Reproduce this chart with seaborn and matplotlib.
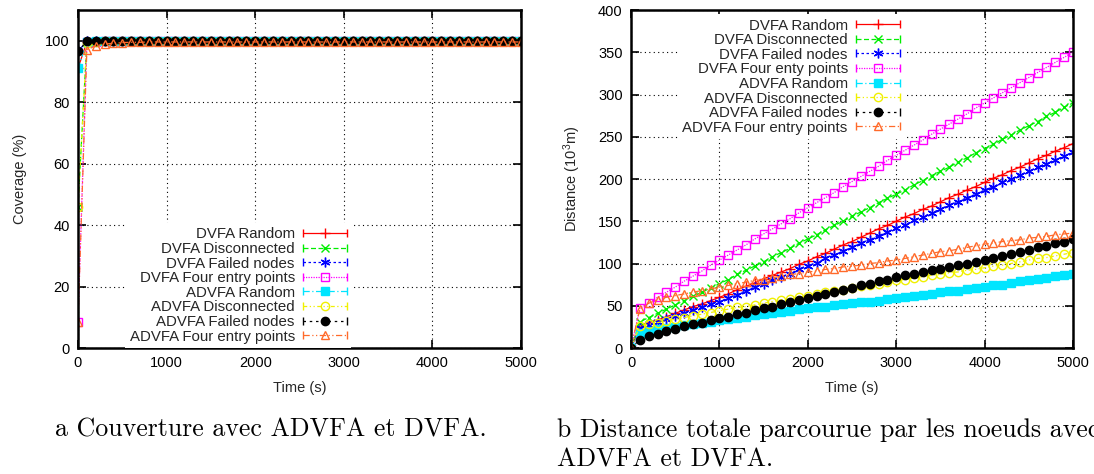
import matplotlib
matplotlib.use("Agg")
import matplotlib.pyplot as plt
from matplotlib.lines import Line2D
from matplotlib.legend_handler import HandlerLine2D
import seaborn as sns

# sampling times (s)
time_s = list(range(0, 5001, 100))

labels_cov = ["DVFA Random", "DVFA Disconnected", "DVFA Failed nodes", "DVFA Four entry points",
              "ADVFA Random", "ADVFA Disconnected", "ADVFA Failed nodes", "ADVFA Four entry points"]
labels_dist = ["DVFA Random", "DVFA Disconnected", "DVFA Failed nodes", "DVFA Four enty points",
               "ADVFA Random", "ADVFA Disconnected", "ADVFA Failed nodes", "ADVFA Four entry points"]

# coverage (%)
cov_dvfa_random = [91.0, 99.7, 99.8, 99.8, 99.9, 99.9, 99.9, 99.9, 99.9, 99.9,
                   99.9, 99.9, 99.9, 99.9, 99.9, 99.9, 99.9, 99.9, 99.9, 99.9,
                   99.9, 99.9, 99.9, 99.9, 99.9, 99.9, 99.9, 99.9, 99.9, 99.9,
                   99.9, 99.9, 99.9, 99.9, 99.9, 99.9, 99.9, 99.9, 99.9, 99.9,
                   99.9, 99.9, 99.9, 99.9, 99.9, 99.9, 99.9, 99.9, 99.9, 99.9, 99.9]
cov_dvfa_disc = [46.0, 99.6, 99.8, 99.8, 99.8, 99.9, 99.9, 99.9, 99.9, 99.9,
                 99.9, 99.9, 99.9, 99.9, 99.9, 99.9, 99.9, 99.9, 99.9, 99.9,
                 99.9, 99.9, 99.9, 99.9, 99.9, 99.9, 99.9, 99.9, 99.9, 99.9,
                 99.9, 99.9, 99.9, 99.9, 99.9, 99.9, 99.9, 99.9, 99.9, 99.9,
                 99.9, 99.9, 99.9, 99.9, 99.9, 99.9, 99.9, 99.9, 99.9, 99.9, 99.9]
cov_dvfa_failed = [96.5, 99.9, 99.9, 99.9, 99.9, 99.9, 99.9, 99.9, 99.9, 99.9,
                   99.9, 99.9, 99.9, 99.9, 99.9, 99.9, 99.9, 99.9, 99.9, 99.9,
                   99.9, 99.9, 99.9, 99.9, 99.9, 99.9, 99.9, 99.9, 99.9, 99.9,
                   99.9, 99.9, 99.9, 99.9, 99.9, 99.9, 99.9, 99.9, 99.9, 99.9,
                   99.9, 99.9, 99.9, 99.9, 99.9, 99.9, 99.9, 99.9, 99.9, 99.9, 99.9]
cov_dvfa_four = [8.5, 99.5, 99.7, 99.8, 99.8, 99.8, 99.9, 99.9, 99.9, 99.9,
                 99.9, 99.9, 99.9, 99.9, 99.9, 99.9, 99.9, 99.9, 99.9, 99.9,
                 99.9, 99.9, 99.9, 99.9, 99.9, 99.9, 99.9, 99.9, 99.9, 99.9,
                 99.9, 99.9, 99.9, 99.9, 99.9, 99.9, 99.9, 99.9, 99.9, 99.9,
                 99.9, 99.9, 99.9, 99.9, 99.9, 99.9, 99.9, 99.9, 99.9, 99.9, 99.9]
cov_advfa_random = [91.0, 99.6, 99.8, 99.8, 99.8, 99.8, 99.8, 99.8, 99.8, 99.8,
                    99.8, 99.8, 99.8, 99.8, 99.8, 99.8, 99.8, 99.8, 99.8, 99.8,
                    99.8, 99.8, 99.8, 99.8, 99.8, 99.8, 99.8, 99.8, 99.8, 99.8,
                    99.8, 99.8, 99.8, 99.8, 99.8, 99.8, 99.8, 99.8, 99.8, 99.8,
                    99.8, 99.8, 99.8, 99.8, 99.8, 99.8, 99.8, 99.8, 99.8, 99.8, 99.8]
cov_advfa_disc = [46.0, 99.4, 99.7, 99.8, 99.8, 99.8, 99.8, 99.8, 99.8, 99.8,
                  99.8, 99.8, 99.8, 99.8, 99.8, 99.8, 99.8, 99.8, 99.8, 99.8,
                  99.8, 99.8, 99.8, 99.8, 99.8, 99.8, 99.8, 99.8, 99.8, 99.8,
                  99.8, 99.8, 99.8, 99.8, 99.8, 99.8, 99.8, 99.8, 99.8, 99.8,
                  99.8, 99.8, 99.8, 99.8, 99.8, 99.8, 99.8, 99.8, 99.8, 99.8, 99.8]
cov_advfa_failed = [96.5, 99.9, 99.9, 99.9, 99.9, 99.9, 99.9, 99.9, 99.9, 99.9,
                    99.9, 99.9, 99.9, 99.9, 99.9, 99.9, 99.9, 99.9, 99.9, 99.9,
                    99.9, 99.9, 99.9, 99.9, 99.9, 99.9, 99.9, 99.9, 99.9, 99.9,
                    99.9, 99.9, 99.9, 99.9, 99.9, 99.9, 99.9, 99.9, 99.9, 99.9,
                    99.9, 99.9, 99.9, 99.9, 99.9, 99.9, 99.9, 99.9, 99.9, 99.9, 99.9]
cov_advfa_four = [8.5, 97.0, 98.4, 98.9, 99.2, 99.4, 99.5, 99.5, 99.6, 99.6,
                  99.6, 99.6, 99.6, 99.6, 99.6, 99.6, 99.6, 99.6, 99.6, 99.6,
                  99.6, 99.6, 99.6, 99.6, 99.6, 99.6, 99.6, 99.6, 99.6, 99.6,
                  99.6, 99.6, 99.6, 99.6, 99.6, 99.6, 99.6, 99.6, 99.6, 99.6,
                  99.6, 99.6, 99.6, 99.6, 99.6, 99.6, 99.6, 99.6, 99.6, 99.6, 99.6]

# total distance (10^3 m)
dist_dvfa_random = [0, 26, 30, 33, 37, 41, 45, 49, 52, 56,
                    60, 64, 69, 73, 77, 82, 86, 90, 94, 99,
                    103, 108, 112, 117, 122, 126, 131, 136, 141, 145,
                    150, 155, 159, 164, 168, 173, 178, 182, 187, 191,
                    196, 201, 205, 210, 214, 219, 224, 228, 233, 237, 242]
dist_dvfa_disc = [0, 31, 36, 41, 46, 51, 56, 61, 66, 71,
                  76, 81, 87, 92, 97, 102, 108, 113, 118, 124,
                  129, 134, 140, 145, 150, 156, 161, 166, 172, 177,
                  182, 187, 193, 198, 204, 209, 214, 220, 225, 231,
                  236, 241, 247, 252, 258, 263, 268, 274, 279, 285, 290]
dist_dvfa_failed = [0, 24, 27, 31, 34, 38, 41, 45, 48, 52,
                    55, 59, 63, 68, 72, 76, 80, 84, 88, 93,
                    97, 101, 106, 110, 115, 119, 124, 128, 133, 137,
                    142, 146, 151, 155, 160, 164, 169, 173, 178, 182,
                    187, 191, 196, 200, 205, 209, 214, 218, 223, 227, 232]
dist_dvfa_four = [0, 47, 53, 60, 66, 72, 79, 85, 91, 98,
                  104, 110, 116, 122, 129, 135, 141, 147, 153, 160,
                  166, 172, 178, 184, 191, 197, 203, 209, 215, 222,
                  228, 234, 240, 246, 253, 259, 265, 271, 277, 284,
                  290, 296, 302, 308, 314, 320, 326, 332, 338, 344, 350]
dist_advfa_random = [0, 18, 20, 22, 24, 25, 27, 28, 30, 31,
                     33, 34, 36, 37, 39, 40, 41, 43, 44, 46,
                     47, 48, 49, 51, 52, 53, 54, 55, 56, 58,
                     59, 60, 62, 63, 64, 66, 67, 68, 70, 71,
                     72, 74, 75, 77, 79, 80, 82, 83, 85, 86, 88]
dist_advfa_disc = [0, 26, 28, 30, 32, 34, 36, 38, 40, 42,
                   44, 46, 48, 49, 51, 53, 55, 57, 58, 60,
                   62, 64, 66, 67, 69, 71, 73, 75, 76, 78,
                   80, 81, 83, 84, 86, 87, 89, 90, 92, 93,
                   95, 97, 98, 100, 102, 104, 106, 107, 109, 111, 113]
dist_advfa_failed = [0, 10, 14, 17, 20, 23, 26, 28, 30, 33,
                     35, 37, 40, 42, 45, 47, 49, 52, 54, 57,
                     59, 61, 64, 66, 69, 71, 74, 76, 79, 81,
                     84, 86, 88, 90, 92, 94, 96, 98, 100, 102,
                     104, 106, 109, 111, 114, 116, 119, 121, 124, 126, 129]
dist_advfa_four = [0, 46, 53, 57, 60, 62, 64, 66, 68, 70,
                   72, 74, 76, 78, 80, 81, 83, 85, 87, 88,
                   90, 91, 93, 94, 96, 97, 98, 100, 101, 103,
                   104, 106, 108, 110, 112, 114, 115, 117, 119, 121,
                   123, 124, 126, 127, 128, 130, 131, 132, 134, 135, 136]

coverage = [cov_dvfa_random, cov_dvfa_disc, cov_dvfa_failed, cov_dvfa_four,
            cov_advfa_random, cov_advfa_disc, cov_advfa_failed, cov_advfa_four]
distance = [dist_dvfa_random, dist_dvfa_disc, dist_dvfa_failed, dist_dvfa_four,
            dist_advfa_random, dist_advfa_disc, dist_advfa_failed, dist_advfa_four]

# gnuplot-like line styles
styles = [
    dict(color="#ff0000", marker="+", ls="-", mfc="#ff0000", ms=7),
    dict(color="#00ee00", marker="x", ls=(0, (4, 2)), mfc="#00ee00", ms=6),
    dict(color="#0000ff", marker=(6, 2, 0), ls=(0, (2, 2)), mfc="#0000ff", ms=7),
    dict(color="#ff00ff", marker="s", ls=(0, (1, 1)), mfc="none", ms=6),
    dict(color="#00e5ff", marker="s", ls=(0, (5, 2, 1, 2)), mfc="#00e5ff", ms=6),
    dict(color="#f0f000", marker="o", ls=(0, (3, 2, 1, 2, 1, 2)), mfc="none", ms=6),
    dict(color="#000000", marker="o", ls=(0, (2, 3)), mfc="#000000", ms=6),
    dict(color="#ff6a2a", marker="^", ls=(0, (5, 2, 1, 2, 1, 2)), mfc="none", ms=6),
]

sns.set_theme(style="ticks")
plt.rcParams["font.family"] = ["Liberation Sans", "DejaVu Sans"]
plt.rcParams["mathtext.default"] = "regular"
plt.rcParams["font.size"] = 10.5

fig = plt.figure(figsize=(10.94, 4.74), dpi=100)
ax1 = fig.add_axes([78 / 1094, 126 / 474, 443 / 1094, 338 / 474])
ax2 = fig.add_axes([631 / 1094, 126 / 474, 442 / 1094, 338 / 474])


def draw(ax, series):
    for vals, st in zip(series, styles):
        sns.lineplot(x=time_s, y=vals, ax=ax, color=st["color"], marker=st["marker"],
                     linestyle=st["ls"], markerfacecolor=st["mfc"], markeredgecolor=st["color"],
                     markersize=st["ms"], linewidth=0.9, markeredgewidth=1.0, legend=False)


def style_axes(ax):
    ax.set_axisbelow(True)
    ax.grid(True, color="black", linestyle=(0, (1, 3)), linewidth=0.8)
    for sp in ax.spines.values():
        sp.set_linewidth(1.8)
        sp.set_color("black")
        sp.set_visible(True)
    ax.tick_params(direction="in", top=True, right=True, length=6, width=1.2,
                   labelsize=10.5, pad=6, colors="black")
    ax.set_xlim(0, 5000)
    ax.set_xticks([0, 1000, 2000, 3000, 4000, 5000])
    ax.set_xlabel("Time (s)", fontsize=10.5, labelpad=7.5)


def add_legend(ax, labels, loc, anchor):
    handles = []
    hmap = {}
    for st in styles:
        main = Line2D([], [], color=st["color"], linestyle=st["ls"], marker=st["marker"],
                      markerfacecolor=st["mfc"], markeredgecolor=st["color"],
                      markersize=st["ms"], linewidth=0.9, markeredgewidth=1.0)
        caps = Line2D([], [], color=st["color"], linestyle="none", marker="|",
                      markersize=6, markeredgewidth=1.0)
        hmap[caps] = HandlerLine2D(numpoints=2, marker_pad=0)
        handles.append((main, caps))
    ax.legend(handles, labels, handler_map=hmap, loc=loc, bbox_to_anchor=anchor,
              markerfirst=False, numpoints=1, handlelength=2.9, handletextpad=0.55,
              labelspacing=0.04, borderpad=0.3, borderaxespad=0, frameon=True,
              fancybox=False, edgecolor="none", facecolor="white", framealpha=1,
              fontsize=10.8)


draw(ax1, coverage)
style_axes(ax1)
ax1.set_ylim(0, 110)
ax1.set_yticks([0, 20, 40, 60, 80, 100])
ax1.set_ylabel("Coverage (%)", fontsize=10.5, labelpad=13)
add_legend(ax1, labels_cov, "lower right", ((351 - 78) / 443, 0.0))

draw(ax2, distance)
style_axes(ax2)
ax2.set_ylim(0, 400)
ax2.set_yticks(range(0, 401, 50))
ax2.set_ylabel("Distance (10$^{3}$m)", fontsize=10.5, labelpad=11)
add_legend(ax2, labels_dist, "upper right", ((904 - 631) / 442, 1 - 4 / 338))

cap_font = dict(family="cmr10", fontsize=18.6, va="center", ha="left", color="black")
fig.text(55 / 1094, 1 - 430 / 474, "a Couverture avec ADVFA et DVFA.", **cap_font)
fig.text(557 / 1094, 1 - 430 / 474, "b Distance totale parcourue par les noeuds avec", **cap_font)
fig.text(557 / 1094, 1 - 460 / 474, "ADVFA et DVFA.", **cap_font)

fig.savefig("out.png", dpi=100)
